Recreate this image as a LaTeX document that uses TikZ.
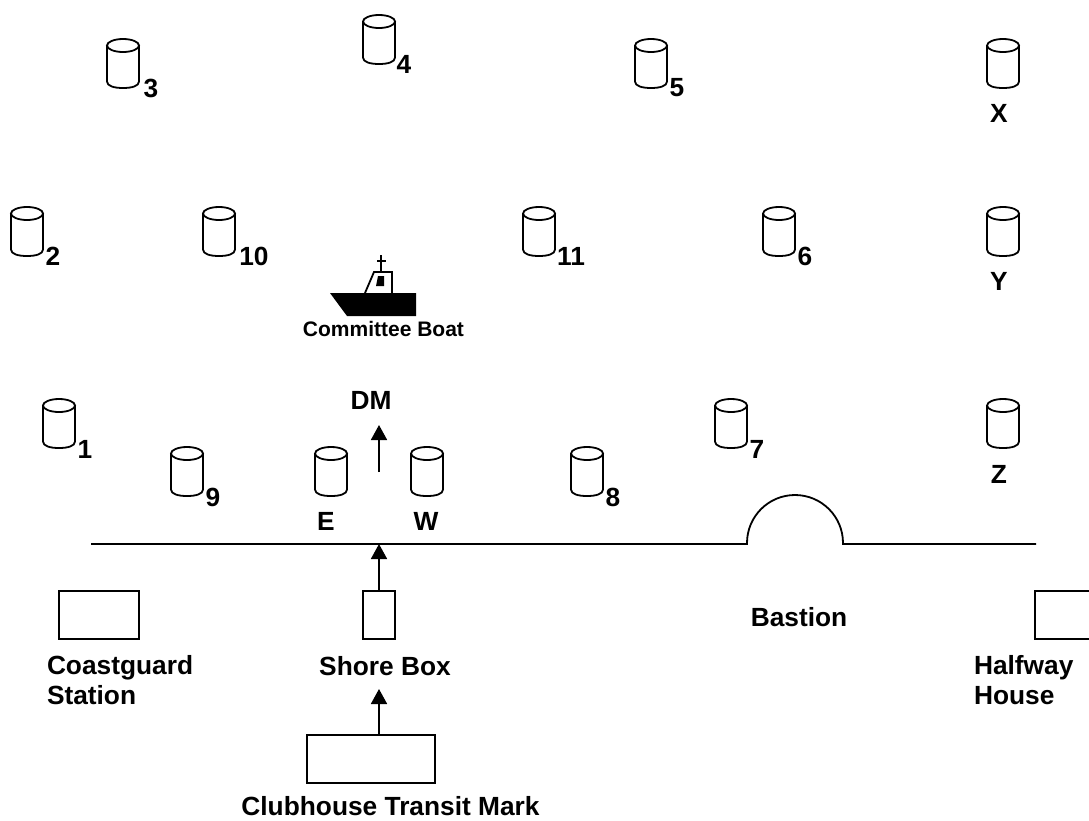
\documentclass[tikz,border=0pt]{standalone}
\usepackage{fontspec}
\setmainfont{Liberation Sans}
\usetikzlibrary{arrows.meta}
\tikzset{
  ln/.style={line width=1.8pt,black},
  pics/buoy/.style={code={
    \draw[ln] (-16,-18) -- (-16,18) .. controls (-16,22.5) and (-9,24.5) .. (0,24.5) .. controls (9,24.5) and (16,22.5) .. (16,18) -- (16,-18);
    \draw[ln] (0,-18) circle[x radius=16,y radius=6.5];
  }},
  lab/.style={font=\bfseries\fontsize{26.3}{30}\selectfont,inner sep=0pt,outer sep=0pt,anchor=center},
  mlab/.style={lab,anchor=north west,align=left},
  box/.style={draw,line width=1.8pt,inner sep=0pt,outer sep=0pt,anchor=north west},
  arr/.style={ln,-{Triangle[length=15pt,width=16pt]}}
}
\begin{document}
\begin{tikzpicture}[x=1pt,y=-1pt]
\useasboundingbox (0,0) rectangle (1089,820);
\clip (0,0) rectangle (1089,820);
% buoys (centre coordinates) and their labels
\foreach \n/\x/\y/\lx/\ly/\t in {
 b3/123/63.5/151/88/3, b4/379/39.5/404/64/4, b5/651/63.5/677/88/5, bX/1003/63.5/999/113/X,
 b2/27/231.5/53/256/2, b10/219/231.5/254/256/10, b11/539/231.5/571/256/11, b6/779/231.5/805/256/6, bY/1003/231.5/999/281/Y,
 b1/59/423.5/85/449/1, b9/187/471.5/213/497/9, bE/331/471.5/326/521/E, bW/427/471.5/426/521/W, b8/587/471.5/613/497/8, b7/731/423.5/757/449/7, bZ/1003/423.5/999/474/Z}{
  \pic (\n) at (\x,\y) {buoy};
  \node[lab] (l\n) at (\lx,\ly) {\t};
}
% shoreline with bastion
\coordinate (shoreW) at (91,544);
\coordinate (shoreC) at (379,544);
\coordinate (basW) at (747,544);
\coordinate (basE) at (843,544);
\coordinate (shoreE) at (1036,544);
\draw[ln] (shoreW) -- (basW) -- ++(0,-1) arc[start angle=180,end angle=360,radius=48] -- (basE) -- (shoreE);
% boxes
\node[box,minimum width=80pt,minimum height=48pt] (coast) at (59,591) {};
\node[box,minimum width=32pt,minimum height=48pt] (shore) at (363,591) {};
\node[box,minimum width=128pt,minimum height=48pt] (club) at (307,735) {};
\draw[ln] (1091,591) -- (1035,591) -- (1035,639) -- (1091,639);
% labels
\node[mlab] (lcoast) at (47,655) {Coastguard\\Station};
\node[lab] (lshore) at (385,666) {Shore Box};
\node[lab] (lclub) at (390.5,806) {Clubhouse Transit Mark};
\node[lab] (lbastion) at (799,617) {Bastion};
\node[mlab] (lhalf) at (974,655) {Halfway\\House};
\node[lab] (ldm) at (371,400) {DM};
\node[lab,font=\bfseries\fontsize{21}{25}\selectfont] (lboat) at (383.5,329) {Committee Boat};
% arrows
\coordinate (dmS) at (379,472);
\coordinate (dmN) at (379,425);
\coordinate (clubN) at (379,735);
\coordinate (shoreS) at (379,689);
\draw[arr] (dmS) -- (dmN);
\draw[arr] (shore.north) -- (shoreC);
\draw[arr] (clubN) -- (shoreS);
% committee boat
\fill (330,293) -- (416,293) -- (416,316) -- (347,316) -- cycle;
\draw[ln,line join=miter] (365,293) -- (374,272) -- (392,272) -- (392,293);
\fill (378,276) -- (384,276) -- (384,286) -- (376,286) -- cycle;
\draw[ln] (381,255) -- (381,272);
\draw[ln] (377,261) -- (386,261);
\end{tikzpicture}
\end{document}
